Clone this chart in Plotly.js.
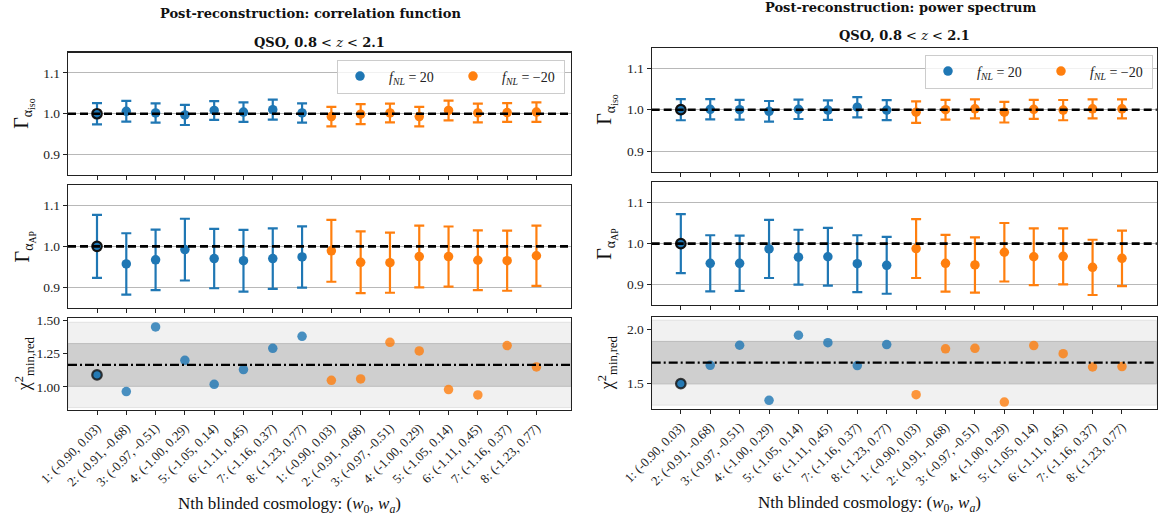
<!DOCTYPE html>
<html>
<head>
<meta charset="utf-8">
<script src="https://cdn.plot.ly/plotly-3.0.1.min.js"></script>
<style>
  html, body { margin: 0; padding: 0; background: #fff; }
  #chart { width: 1163px; height: 520px; }
</style>
</head>
<body>
<div id="chart"></div>
<script>
// Blinded cosmologies (w0, wa), shared by both fNL groups
const cosmologies = [
  "1: (-0.90, 0.03)", "2: (-0.91, -0.68)", "3: (-0.97, -0.51)", "4: (-1.00, 0.29)",
  "5: (-1.05, 0.14)", "6: (-1.11, 0.45)", "7: (-1.16, 0.37)", "8: (-1.23, 0.77)"
];
const tickText = cosmologies.concat(cosmologies);
const tickPos = [1, 2, 3, 4, 5, 6, 7, 8, 9, 10, 11, 12, 13, 14, 15, 16];
const posX = [1, 2, 3, 4, 5, 6, 7, 8];        // fNL = 20
const negX = [9, 10, 11, 12, 13, 14, 15, 16];  // fNL = -20

// Correlation function
const xiIsoPos = [1.000, 1.006, 1.002, 0.997, 1.008, 1.004, 1.010, 1.002];
const xiIsoPosErr = [0.026, 0.0255, 0.0235, 0.0245, 0.023, 0.024, 0.0245, 0.0235];
const xiIsoNeg = [0.993, 0.999, 1.002, 0.993, 1.008, 1.002, 1.003, 1.004];
const xiIsoNegErr = [0.024, 0.0245, 0.023, 0.024, 0.024, 0.023, 0.023, 0.024];

const xiApPos = [1.000, 0.957, 0.967, 0.992, 0.970, 0.965, 0.970, 0.974];
const xiApPosErr = [0.077, 0.075, 0.074, 0.0755, 0.0725, 0.0755, 0.074, 0.075];
const xiApNeg = [0.989, 0.961, 0.960, 0.975, 0.975, 0.966, 0.965, 0.977];
const xiApNegErr = [0.0755, 0.0755, 0.0735, 0.0755, 0.0735, 0.073, 0.0735, 0.0735];

const xiChiPos = [1.090, 0.965, 1.450, 1.200, 1.020, 1.130, 1.290, 1.380];
const xiChiNeg = [1.050, 1.060, 1.335, 1.270, 0.980, 0.940, 1.310, 1.150];
const xiChiMean = 1.165;
const xiChiStd = 0.16;

// Power spectrum
const pkIsoPos = [1.000, 1.001, 1.000, 0.996, 1.001, 0.999, 1.006, 0.999];
const pkIsoPosErr = [0.0255, 0.0245, 0.024, 0.025, 0.0235, 0.0235, 0.0245, 0.024];
const pkIsoNeg = [0.994, 1.000, 1.002, 0.994, 1.001, 0.999, 1.002, 1.002];
const pkIsoNegErr = [0.026, 0.024, 0.023, 0.025, 0.023, 0.0245, 0.023, 0.023];

const pkApPos = [1.000, 0.952, 0.952, 0.987, 0.967, 0.968, 0.951, 0.947];
const pkApPosErr = [0.072, 0.0685, 0.0675, 0.071, 0.067, 0.0705, 0.0695, 0.0695];
const pkApNeg = [0.988, 0.952, 0.948, 0.979, 0.968, 0.969, 0.942, 0.964];
const pkApNegErr = [0.072, 0.0695, 0.0675, 0.0715, 0.0695, 0.0685, 0.0675, 0.068];

const pkChiPos = [1.500, 1.669, 1.853, 1.347, 1.945, 1.877, 1.666, 1.859];
const pkChiNeg = [1.399, 1.820, 1.825, 1.331, 1.850, 1.776, 1.653, 1.657];
const pkChiMean = 1.693;
const pkChiStd = 0.195;

const fiducial = 1.0;

const BLUE = "#1f77b4";
const ORANGE = "#ff7f0e";
const FONT = "Liberation Serif, DejaVu Serif, serif";
const WIDE = "DejaVu Serif, Liberation Serif, serif";
const legendPos = "  <i>f</i><sub><i>NL</i></sub> = 20";
const legendNeg = "  <i>f</i><sub><i>NL</i></sub> = \u221220";

const traces = [];

function errTrace(x, y, err, color, xa, ya, name, legend, showlegend) {
  return {
    type: "scatter", mode: "markers", x: x, y: y, xaxis: xa, yaxis: ya,
    name: name, legend: legend, showlegend: showlegend,
    marker: { color: color, size: 9.5 },
    error_y: { type: "data", array: err, visible: true, color: color, thickness: 2.2, width: 5 },
    hoverinfo: "skip"
  };
}
function refPoint(x, y, xa, ya, opacity) {
  // first blinded cosmology at fNL = 20 is ringed in black
  return {
    type: "scatter", mode: "markers", x: [x[0]], y: [y[0]], xaxis: xa, yaxis: ya,
    showlegend: false, opacity: opacity,
    marker: { color: BLUE, size: 9.5, line: { color: "#111", width: 2.2 } },
    hoverinfo: "skip"
  };
}
function chiTrace(x, y, color, xa, ya) {
  return {
    type: "scatter", mode: "markers", x: x, y: y, xaxis: xa, yaxis: ya,
    showlegend: false, opacity: 0.8,
    marker: { color: color, size: 9.5 }, hoverinfo: "skip"
  };
}

// Left column: correlation function
traces.push(errTrace(posX, xiIsoPos, xiIsoPosErr, BLUE, "x", "y", legendPos, "legend", true));
traces.push(errTrace(negX, xiIsoNeg, xiIsoNegErr, ORANGE, "x", "y", legendNeg, "legend", true));
traces.push(refPoint(posX, xiIsoPos, "x", "y", 1));
traces.push(errTrace(posX, xiApPos, xiApPosErr, BLUE, "x2", "y2", legendPos, "legend", false));
traces.push(errTrace(negX, xiApNeg, xiApNegErr, ORANGE, "x2", "y2", legendNeg, "legend", false));
traces.push(refPoint(posX, xiApPos, "x2", "y2", 1));
traces.push(chiTrace(posX, xiChiPos, BLUE, "x3", "y3"));
traces.push(chiTrace(negX, xiChiNeg, ORANGE, "x3", "y3"));
traces.push(refPoint(posX, xiChiPos, "x3", "y3", 0.8));

// Right column: power spectrum
traces.push(errTrace(posX, pkIsoPos, pkIsoPosErr, BLUE, "x4", "y4", legendPos, "legend2", true));
traces.push(errTrace(negX, pkIsoNeg, pkIsoNegErr, ORANGE, "x4", "y4", legendNeg, "legend2", true));
traces.push(refPoint(posX, pkIsoPos, "x4", "y4", 1));
traces.push(errTrace(posX, pkApPos, pkApPosErr, BLUE, "x5", "y5", legendPos, "legend2", false));
traces.push(errTrace(negX, pkApNeg, pkApNegErr, ORANGE, "x5", "y5", legendNeg, "legend2", false));
traces.push(refPoint(posX, pkApPos, "x5", "y5", 1));
traces.push(chiTrace(posX, pkChiPos, BLUE, "x6", "y6"));
traces.push(chiTrace(negX, pkChiNeg, ORANGE, "x6", "y6"));
traces.push(refPoint(posX, pkChiPos, "x6", "y6", 0.8));

// Axes
const W = 1163, H = 520;
const px = v => v / W;
const py = v => 1 - v / H;
const xRange = [0.01, 17.18];

function xAxis(domain, anchor, labels) {
  const a = {
    domain: domain, anchor: anchor, range: xRange,
    tickmode: "array", tickvals: tickPos, ticktext: tickText,
    showticklabels: labels, ticks: "outside", ticklen: 4, tickwidth: 1, tickcolor: "#222",
    showline: true, mirror: true, linecolor: "#222", linewidth: 1.2,
    showgrid: false, zeroline: false,
    tickfont: { family: FONT, size: 13, color: "#222" }
  };
  if (labels) a.tickangle = -45;
  return a;
}
function yAxis(domain, anchor, range, vals, fmt, grid) {
  return {
    domain: domain, anchor: anchor, range: range,
    tickmode: "array", tickvals: vals, tickformat: fmt,
    ticks: "outside", ticklen: 4, tickwidth: 1, tickcolor: "#222",
    showline: true, mirror: true, linecolor: "#222", linewidth: 1.2,
    showgrid: grid, gridcolor: "#b8b8b8", gridwidth: 1, zeroline: false,
    tickfont: { family: FONT, size: 13.5, color: "#222" }
  };
}

const xL = [px(68), px(571)];
const xR = [px(651.7), px(1156.7)];
const gammaTicks = [0.9, 1.0, 1.1];

function legendBox(xRight, yTop) {
  return {
    orientation: "h", xref: "paper", yref: "paper",
    x: px(xRight), y: py(yTop), xanchor: "right", yanchor: "top",
    bgcolor: "rgba(255,255,255,0.8)", bordercolor: "#cccccc", borderwidth: 1,
    font: { family: FONT, size: 14, color: "#222" },
    itemwidth: 34, entrywidth: 64, tracegroupgap: 0
  };
}

const layout = {
  width: W, height: H,
  margin: { l: 0, r: 0, t: 0, b: 0 },
  paper_bgcolor: "#fff", plot_bgcolor: "#fff",
  font: { family: FONT, color: "#222" },
  showlegend: true,
  xaxis: xAxis(xL, "y", false),
  yaxis: yAxis([py(175), py(52.5)], "x", [0.85, 1.15], gammaTicks, ".1f", true),
  xaxis2: xAxis(xL, "y2", false),
  yaxis2: yAxis([py(307.7), py(185)], "x2", [0.85, 1.15], gammaTicks, ".1f", true),
  xaxis3: xAxis(xL, "y3", true),
  yaxis3: yAxis([py(410), py(318.3)], "x3", [0.827, 1.515], [1.0, 1.25, 1.5], ".2f", false),
  xaxis4: xAxis(xR, "y4", false),
  yaxis4: yAxis([py(171.7), py(47.7)], "x4", [0.85, 1.15], gammaTicks, ".1f", true),
  xaxis5: xAxis(xR, "y5", false),
  yaxis5: yAxis([py(305), py(182.3)], "x5", [0.85, 1.15], gammaTicks, ".1f", true),
  xaxis6: xAxis(xR, "y6", true),
  yaxis6: yAxis([py(409), py(317.3)], "x6", [1.267, 2.11], [1.5, 2.0], ".1f", false),
  legend: legendBox(565, 59.5),
  legend2: legendBox(1153, 54.5),
  shapes: [],
  annotations: []
};

// Fiducial reference lines on the Gamma panels
[["x", "y"], ["x2", "y2"], ["x4", "y4"], ["x5", "y5"]].forEach(([xa, ya]) => {
  layout.shapes.push({
    type: "line", xref: xa + " domain", yref: ya, x0: 0, x1: 1, y0: fiducial, y1: fiducial,
    line: { color: "#000", width: 2.6, dash: "8px,4px" }, layer: "above"
  });
});

// Chi-square mean with 1 and 2 sigma bands
function chiBands(xa, ya, mean, sd) {
  layout.shapes.push({
    type: "rect", xref: xa + " domain", yref: ya, x0: 0, x1: 1,
    y0: mean - 2 * sd, y1: mean + 2 * sd,
    fillcolor: "#f1f1f1", line: { color: "#e2e2e2", width: 1 }, layer: "below"
  });
  layout.shapes.push({
    type: "rect", xref: xa + " domain", yref: ya, x0: 0, x1: 1,
    y0: mean - sd, y1: mean + sd,
    fillcolor: "#cfcfcf", line: { color: "#bcbcbc", width: 1 }, layer: "below"
  });
  layout.shapes.push({
    type: "line", xref: xa + " domain", yref: ya, x0: 0, x1: 1, y0: mean, y1: mean,
    line: { color: "#000", width: 2.2, dash: "9px,3px,2px,3px" }, layer: "above"
  });
}
chiBands("x3", "y3", xiChiMean, xiChiStd);
chiBands("x6", "y6", pkChiMean, pkChiStd);

function note(text, x, y, size, angle, family) {
  layout.annotations.push({
    text: text, xref: "paper", yref: "paper", x: x, y: y,
    xanchor: "center", yanchor: "middle", showarrow: false,
    textangle: angle || 0, font: { family: family || FONT, size: size, color: "#111" }
  });
}

// Titles
note("<b>Post-reconstruction: correlation function</b>", px(310), py(13.3), 13, 0, WIDE);
note("<b>QSO, 0.8</b> &lt; <i>z</i> &lt; <b>2.1</b>", px(319.5), py(42.7), 13, 0, WIDE);
note("<b>Post-reconstruction: power spectrum</b>", px(901), py(7.3), 13, 0, WIDE);
note("<b>QSO, 0.8</b> &lt; <i>z</i> &lt; <b>2.1</b>", px(904.2), py(36), 13, 0, WIDE);

// Axis titles
const isoTitle = "\u0393<sub>\u03b1<sub>iso</sub></sub>";
const apTitle = "\u0393<sub>\u03b1<sub>AP</sub></sub>";
const chiTitle = "\u03c7<sup>2</sup><sub>min,red</sub>";
note(isoTitle, px(24), py(113.8), 20, -90);
note(apTitle, px(24), py(246.4), 20, -90);
note(chiTitle, px(24), py(364.2), 18, -90);
note(isoTitle, px(607), py(109.7), 20, -90);
note(apTitle, px(607), py(243.7), 20, -90);
note(chiTitle, px(607), py(363.2), 18, -90);

const xTitle = "Nth blinded cosmology: (<i>w</i><sub>0</sub>, <i>w<sub>a</sub></i>)";
note(xTitle, px(289), py(505), 17);
note(xTitle, px(869), py(504), 17);

Plotly.newPlot("chart", traces, layout, { displayModeBar: false, staticPlot: true });
</script>
</body>
</html>
